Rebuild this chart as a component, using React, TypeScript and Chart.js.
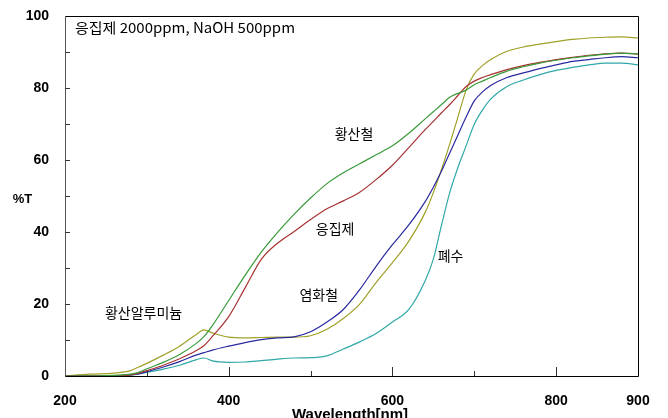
import React, { useEffect, useRef } from "react";
import { Chart, registerables } from "chart.js";

Chart.register(...registerables);

const wavelengths = [200, 230, 260, 280, 290, 300, 320, 340, 360, 370, 380, 400, 420, 440, 460, 480, 500, 520, 540, 560, 580, 600, 620, 640, 650, 660, 670, 680, 690, 700, 710, 720, 740, 760, 780, 800, 820, 840, 860, 880, 900];

const ironSulfate = [0, 0, 0.2, 0.5, 1, 2, 3.8, 6, 9, 11, 14, 21, 28, 34.5, 40, 45, 49.5, 53.5, 56.5, 59, 61.5, 64, 67.5, 71.5, 73.5, 75.5, 77.5, 78.6, 79.5, 81, 82, 83, 84.8, 86, 87, 87.8, 88.5, 89, 89.5, 89.8, 89.5];
const coagulant = [0, 0, 0, 0.3, 0.8, 1.5, 3, 4.8, 7, 8.5, 11, 16.5, 24.5, 32.5, 37, 40.2, 43.5, 46.5, 48.7, 51.1, 54.6, 58.6, 63.5, 68.5, 70.8, 73.2, 75.5, 78, 80.5, 82, 83, 83.8, 85.2, 86.3, 87.2, 88, 88.6, 89.2, 89.6, 89.8, 89.5];
const ironChloride = [0, 0, 0, 0.3, 0.6, 1.2, 2.5, 4, 5.8, 6.5, 7.2, 8.3, 9.3, 10.1, 10.6, 10.9, 12.3, 15, 18.5, 24, 30.5, 36.5, 42, 48.5, 52.5, 57, 62, 67, 72, 76.5, 79, 80.8, 83, 84.3, 85.5, 86.5, 87.5, 88, 88.5, 88.8, 88.5];
const aluminumSulfate = [0, 0.5, 0.8, 1.5, 2.5, 3.5, 5.8, 8.3, 11.5, 12.8, 12, 10.8, 10.6, 10.7, 10.8, 10.8, 11.2, 13, 16, 20, 26, 31.5, 37.5, 45.5, 51, 57.5, 64.5, 72, 79.5, 84, 86.3, 88, 90.3, 91.5, 92.3, 93, 93.6, 94, 94.2, 94.3, 94];
const wastewater = [0, 0, 0, 0.3, 0.6, 1, 1.9, 3, 4.5, 5, 4.2, 3.8, 3.9, 4.3, 4.7, 5, 5.1, 5.6, 7.5, 9.5, 11.8, 15, 18.5, 26.5, 32.5, 42, 51, 58, 64, 70, 74, 77, 80.5, 82.3, 83.8, 85, 85.8, 86.5, 87, 87, 86.5];

const seriesNames = ["황산철", "응집제", "염화철", "황산알루미늄", "폐수"];
const seriesColors = ["#3a9a3a", "#a83232", "#2a2aa0", "#a0a028", "#30a8a8"];
const seriesValues = [ironSulfate, coagulant, ironChloride, aluminumSulfate, wastewater];

const chartTitle = "응집제 2000ppm, NaOH 500ppm";
const xTitle = "Wavelength[nm]";
const yTitle = "%T";
const xLabelTicks = [200, 400, 600, 800, 900];
const yLabelTicks = [0, 20, 40, 60, 80, 100];

// annotation label anchors in data coordinates [wavelength, %T]
const annotations: [string, number, number][] = [
  ["황산철", 553, 67.5],
  ["응집제", 530, 41],
  ["염화철", 510, 22.5],
  ["폐수", 671, 33.5],
  ["황산알루미늄", 296, 17.5],
];

const latinFamily = "'Liberation Sans', Arial, sans-serif";
const krFont = "14px 'Noto Sans CJK KR', sans-serif";

const decorPlugin = {
  id: "decor",
  afterDraw(chart: any) {
    const ctx = chart.ctx;
    const { left, right, top, bottom } = chart.chartArea;
    const xs = chart.scales.x;
    const ys = chart.scales.y;
    ctx.save();
    // frame
    ctx.strokeStyle = "#000";
    ctx.lineWidth = 1;
    ctx.beginPath();
    ctx.rect(Math.round(left) + 0.5, Math.round(top) + 0.5, Math.round(right - left), Math.round(bottom - top));
    ctx.stroke();
    ctx.strokeStyle = "#555";
    ctx.beginPath();
    ctx.moveTo(Math.round(left) + 0.5, top);
    ctx.lineTo(Math.round(left) + 0.5, bottom);
    ctx.stroke();
    // y ticks inside
    ctx.strokeStyle = "#333";
    for (let v = 10; v < 100; v += 10) {
      const py = Math.round(ys.getPixelForValue(v)) + 0.5;
      ctx.beginPath();
      ctx.moveTo(left, py);
      ctx.lineTo(left + 5, py);
      ctx.stroke();
    }
    // x ticks inside
    for (let v = 300; v < 900; v += 100) {
      const px = Math.round(xs.getPixelForValue(v)) + 0.5;
      const len = v % 200 === 0 ? 9 : 5;
      ctx.beginPath();
      ctx.moveTo(px, bottom);
      ctx.lineTo(px, bottom - len);
      ctx.stroke();
    }
    // title, stretched to the reference width
    ctx.fillStyle = "#000";
    ctx.font = krFont;
    ctx.textBaseline = "middle";
    ctx.textAlign = "left";
    const tw = ctx.measureText(chartTitle).width;
    const sx = 220 / tw;
    ctx.save();
    ctx.translate(left + 10, top + 11);
    ctx.scale(sx, 1);
    ctx.fillText(chartTitle, 0, 0);
    ctx.restore();
    ctx.textAlign = "center";
    for (const [t, wx, wy] of annotations) {
      ctx.fillText(t, xs.getPixelForValue(wx), ys.getPixelForValue(wy));
    }
    ctx.font = "bold 13px " + latinFamily;
    ctx.fillText(yTitle, 22.5, 199.5);
    ctx.font = "bold 15px " + latinFamily;
    ctx.textBaseline = "alphabetic";
    ctx.fillText(xTitle, 350, 419);
    ctx.restore();
  },
};

export default function App() {
  const ref = useRef<HTMLCanvasElement | null>(null);
  useEffect(() => {
    document.body.style.margin = "0";
    const canvas = ref.current!;
    const chart = new Chart(canvas, {
      type: "line",
      data: {
        datasets: seriesNames.map((name, i) => ({
          label: name,
          data: wavelengths.map((w, j) => ({ x: w, y: seriesValues[i][j] })),
          borderColor: seriesColors[i],
          borderWidth: 1.2,
          pointRadius: 0,
          cubicInterpolationMode: "monotone",
          fill: false,
        })),
      },
      options: {
        animation: false,
        responsive: false,
        layout: { padding: { top: 14, right: 30, left: 0, bottom: 0 } },
        plugins: { legend: { display: false }, tooltip: { enabled: false } },
        scales: {
          x: {
            type: "linear",
            min: 200,
            max: 900,
            afterBuildTicks: (s: any) => {
              s.ticks = xLabelTicks.map((v) => ({ value: v }));
            },
            afterFit: (s: any) => {
              s.height = 42;
            },
            grid: { display: false },
            border: { display: false },
            ticks: {
              autoSkip: false,
              maxRotation: 0,
              padding: 9,
              color: "#000",
              font: { family: latinFamily, size: 14, weight: "bold" },
            },
          },
          y: {
            min: 0,
            max: 100,
            afterBuildTicks: (s: any) => {
              s.ticks = yLabelTicks.map((v) => ({ value: v }));
            },
            afterFit: (s: any) => {
              s.width = 65;
            },
            grid: { display: false },
            border: { display: false },
            ticks: {
              autoSkip: false,
              padding: 8,
              color: "#000",
              font: { family: latinFamily, size: 14, weight: "bold" },
            },
          },
        },
      },
      plugins: [decorPlugin],
    } as any);
    return () => chart.destroy();
  }, []);
  return (
    <div style={{ width: 668, height: 418 }}>
      <canvas ref={ref} width={668} height={418} />
    </div>
  );
}
